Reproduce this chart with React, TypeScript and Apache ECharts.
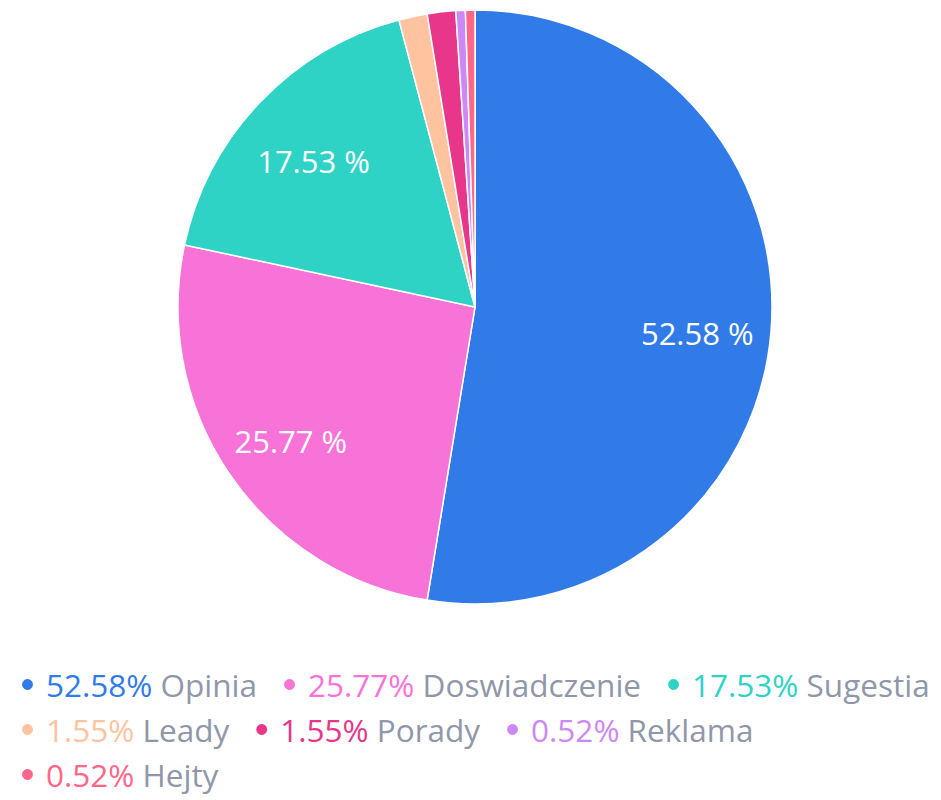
import React, { useEffect, useRef } from "react";
import * as echarts from "echarts";

const names = ["Opinia", "Doswiadczenie", "Sugestia", "Leady", "Porady", "Reklama", "Hejty"];
const counts = [102, 50, 34, 3, 3, 1, 1];
const percents = ["52.58", "25.77", "17.53", "1.55", "1.55", "0.52", "0.52"];
const colors = ["#317BE8", "#F873D8", "#2ED3C6", "#FFC3A0", "#E8368B", "#CC88F5", "#FF6688"];

export default function App() {
  const ref = useRef<HTMLDivElement>(null);
  useEffect(() => {
    document.body.style.margin = "0";
    const chart = echarts.init(ref.current!, null, { renderer: "svg" });
    const fs = 31.5;
    const rich: any = { n: { color: "#9097AA", fontSize: fs, fontFamily: "Open Sans", lineHeight: 35, padding: [0, 15, 0, 0] } };
    colors.forEach((c, i) => {
      rich["c" + i] = { color: c, fontSize: fs, fontFamily: "Open Sans", lineHeight: 35, padding: [0, 0, 0, 7] };
    });
    const data = names.map((n, i) => ({ name: n, value: counts[i] }));
    chart.setOption({
      animation: false,
      color: colors,
      legend: {
        left: 15,
        top: 662,
        width: 930,
        itemGap: 10,
        icon: "circle",
        itemWidth: 13,
        itemHeight: 13,
        formatter: (name: string) => {
          const i = names.indexOf(name);
          return `{c${i}|${percents[i]}%} {n|${name}}`;
        },
        textStyle: { fontSize: fs, fontFamily: "Open Sans", lineHeight: 35, rich },
        data: names,
      },
      series: [
        {
          type: "pie",
          center: [475, 307],
          radius: [0, 297],
          startAngle: 90,
          clockwise: true,
          label: { show: false },
          labelLine: { show: false },
          itemStyle: { borderColor: "#fff", borderWidth: 1.5 },
          emphasis: { disabled: true },
          data,
        },
        {
          type: "pie",
          center: [475, 315],
          radius: [143, 297],
          startAngle: 90,
          clockwise: true,
          silent: true,
          legendHoverLink: false,
          itemStyle: { color: "rgba(0,0,0,0)" },
          labelLine: { show: false },
          label: {
            show: true,
            position: "inside",
            color: "#fff",
            fontSize: 31,
            fontFamily: "Open Sans",
            formatter: (p: any) => (p.dataIndex < 3 ? `${percents[p.dataIndex]} %` : ""),
          },
          emphasis: { disabled: true },
          data: names.map((n, i) => ({ name: n + " ", value: counts[i] })),
        },
      ],
    });
    return () => chart.dispose();
  }, []);
  return <div ref={ref} style={{ width: 941, height: 800 }} />;
}
